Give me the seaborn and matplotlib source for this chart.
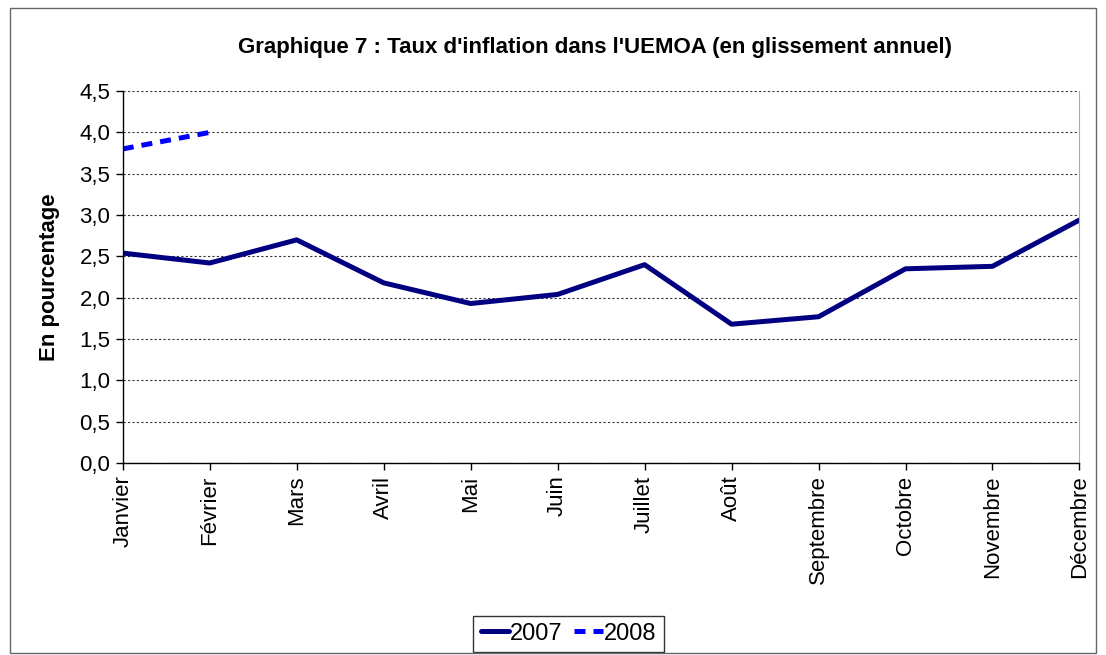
import matplotlib
matplotlib.use("Agg")
import matplotlib.pyplot as plt
import seaborn as sns
import pandas as pd
from matplotlib.patches import Rectangle

# data
mois = ['Janvier', 'Février', 'Mars', 'Avril', 'Mai', 'Juin', 'Juillet',
        'Août', 'Septembre', 'Octobre', 'Novembre', 'Décembre']
taux_2007 = [2.54, 2.42, 2.70, 2.18, 1.93, 2.04, 2.40, 1.68, 1.77, 2.35, 2.38, 2.94]
taux_2008 = [3.80, 4.00]

sns.set_style("white")
plt.rcParams['font.family'] = ['Liberation Sans', 'DejaVu Sans']
plt.rcParams['text.color'] = 'black'
plt.rcParams['axes.labelcolor'] = 'black'
plt.rcParams['xtick.color'] = 'black'
plt.rcParams['ytick.color'] = 'black'

df07 = pd.DataFrame({'pos': range(len(mois)), 'taux': taux_2007})
df08 = pd.DataFrame({'pos': range(len(taux_2008)), 'taux': taux_2008})

fig = plt.figure(figsize=(11.06, 6.55), dpi=100)
ax = fig.add_axes([0.111, 0.293, 0.865, 0.568])

sns.lineplot(data=df07, x='pos', y='taux', ax=ax, color='#000080', lw=3.6,
             label='2007')
sns.lineplot(data=df08, x='pos', y='taux', ax=ax, color='#0000FF', lw=3.6,
             linestyle=(0, (2.2, 1.6)), label='2008')

ax.set_xlim(0, len(mois) - 1)
ax.set_ylim(0, 4.5)
ax.set_yticks([i * 0.5 for i in range(10)])
ax.set_yticklabels([f"{i * 0.5:.1f}".replace('.', ',') for i in range(10)], fontsize=16)
ax.set_xticks(range(len(mois)))
ax.set_xticklabels(mois, rotation=90, fontsize=16)
ax.set_xlabel('')
ax.set_ylabel('En pourcentage', fontsize=16, fontweight='bold', labelpad=14)
ax.grid(axis='y', color='#333333', linestyle=(0, (2, 2)), lw=0.8)
ax.set_axisbelow(True)
ax.tick_params(axis='both', direction='out', length=5, width=1, colors='black',
               bottom=True, left=True, pad=4)
for s in ['left', 'bottom']:
    ax.spines[s].set_color('black')
    ax.spines[s].set_linewidth(1)
ax.spines['top'].set_visible(False)
ax.spines['right'].set_color('#aaaaaa')

fig.text(0.538, 0.928, "Graphique 7 : Taux d'inflation dans l'UEMOA (en glissement annuel)",
         ha='center', va='center', fontsize=16, fontweight='bold', color='black')

leg = ax.legend(loc='lower center', ncol=2, fontsize=17,
                frameon=True, fancybox=False, edgecolor='black',
                handlelength=1.2, handletextpad=0.05, columnspacing=0.5,
                borderpad=0.3, borderaxespad=0)
leg.set_bbox_to_anchor((0.514, 0.005), transform=fig.transFigure)

fig.patches.append(Rectangle((0.009, 0.003), 0.982, 0.985, transform=fig.transFigure,
                             fill=False, edgecolor='#666666', lw=1))

fig.savefig('out.png', dpi=100)
